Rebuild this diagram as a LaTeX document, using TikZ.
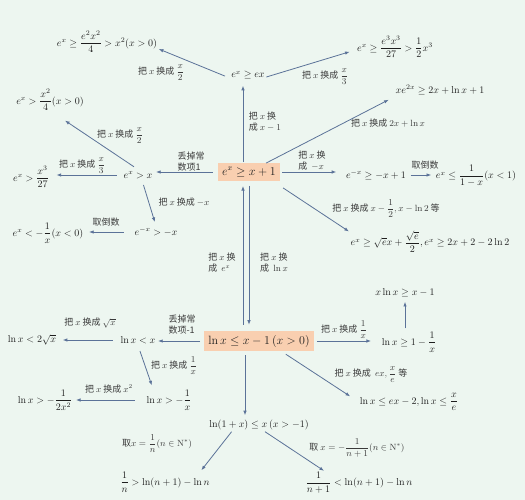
\documentclass[tikz,border=0pt]{standalone}
\usepackage{amsmath,amssymb}
\usepackage{fontspec}
\newfontfamily\cjk{Noto Sans CJK SC}
\usetikzlibrary{arrows.meta,positioning}
\pgfdeclarelayer{background1}
\pgfsetlayers{background1,main}

\begin{document}
\begin{tikzpicture}[x=1pt,y=-1pt,
	fml/.style={inner sep=1.5pt,font=\normalsize,text=fmlcolor},
	lbl/.style={inner sep=1pt,align=left,font=\small\cjk,text=lblcolor},
	keybox/.style={fill=boxcolor,inner sep=4pt,font=\large,text=fmlcolor},
	arr/.style={-{Latex[scale=0.7]},line width=0.8pt,arrcolor}]

	\definecolor{bgcolor}{HTML}{EDF6F0}
	\definecolor{boxcolor}{HTML}{F9CFB0}
	\definecolor{arrcolor}{HTML}{5B7298}
	\definecolor{fmlcolor}{HTML}{1E1E1E}
	\definecolor{lblcolor}{HTML}{3A3A3A}

	\useasboundingbox (0,0) rectangle (525,500);

	% upper half: e^x >= x+1
	\node(exm) [keybox] at (249,172) {$e^x\geq x+1$};
	\node(exx) [fml] at (248,75) {$e^x\geq ex$};
	\node(sq) [fml] at (107,42) {$e^x\geq\dfrac{e^2x^2}{4}>x^2(x>0)$};
	\node(cu) [fml] at (395,47) {$e^x\geq\dfrac{e^3x^3}{27}>\dfrac{1}{2}x^3$};
	\node(xe2) [fml] at (440,90) {$xe^{2x}\geq 2x+\ln x+1$};
	\node(gtx) [fml] at (138,175) {$e^x>x$};
	\node(sq2) [fml] at (50,100) {$e^x>\dfrac{x^2}{4}(x>0)$};
	\node(cu2) [fml] at (31,177) {$e^x>\dfrac{x^3}{27}$};
	\node(nx) [fml] at (156,232) {$e^{-x}>-x$};
	\node(inv) [fml] at (48,233) {$e^x<-\dfrac{1}{x}(x<0)$};
	\node(nx1) [fml] at (376,175) {$e^{-x}\geq -x+1$};
	\node(inv1) [fml] at (476,176) {$e^x\leq\dfrac{1}{1-x}(x<1)$};
	\node(sh) [fml] at (430,242) {$e^x\geq\sqrt{e}x+\dfrac{\sqrt{e}}{2},e^x\geq 2x+2-2\ln 2$};

	% lower half: ln x <= x-1
	\node(lnm) [keybox] at (259,341) {$\ln x\leq x-1\,(x>0)$};
	\node(xln) [fml] at (405,293) {$x\ln x\geq x-1$};
	\node(ln1) [fml] at (409,342) {$\ln x\geq 1-\dfrac{1}{x}$};
	\node(lnex) [fml] at (409,402) {$\ln x\leq ex-2,\ln x\leq\dfrac{x}{e}$};
	\node(lnlt) [fml] at (138,340) {$\ln x<x$};
	\node(lnsq) [fml] at (32,340) {$\ln x<2\sqrt{x}$};
	\node(lnr) [fml] at (169,400) {$\ln x>-\dfrac{1}{x}$};
	\node(lnr2) [fml] at (45,400) {$\ln x>-\dfrac{1}{2x^2}$};
	\node(lnp) [fml] at (259,425) {$\ln(1+x)\leq x\,(x>-1)$};
	\node(hn) [fml] at (165,482) {$\dfrac{1}{n}>\ln(n+1)-\ln n$};
	\node(hn1) [fml] at (359,483) {$\dfrac{1}{n+1}<\ln(n+1)-\ln n$};

	% labels
	\node(l1) [lbl] at (161,73) {把 $x$ 换成 $\dfrac{x}{2}$};
	\node(l2) [lbl] at (325,77) {把 $x$ 换成 $\dfrac{x}{3}$};
	\node(l3) [lbl] at (265,122) {把 $x$ 换\\成 $x-1$};
	\node(l4) [lbl] at (388,123) {把 $x$ 换成 $2x+\ln x$};
	\node(l5) [lbl] at (191,162) {丢掉常\\数项1};
	\node(l6) [lbl] at (120,136) {把 $x$ 换成 $\dfrac{x}{2}$};
	\node(l7) [lbl] at (82,166) {把 $x$ 换成 $\dfrac{x}{3}$};
	\node(l8) [lbl] at (184,202) {把 $x$ 换成 $-x$};
	\node(l9) [lbl] at (106,222) {取倒数};
	\node(l10) [lbl] at (312,161) {把 $x$ 换\\成 \ $-x$};
	\node(l11) [lbl] at (425,165) {取倒数};
	\node(l12) [lbl] at (386,209) {把 $x$ 换成 $x-\dfrac{1}{2},x-\ln 2$ 等};
	\node(l13) [lbl] at (222,263) {把 $x$ 换\\成 \ $e^x$};
	\node(l14) [lbl] at (274,263) {把 $x$ 换\\成 \ $\ln x$};
	\node(l15) [lbl] at (344,330) {把 $x$ 换成 $\dfrac{1}{x}$};
	\node(l16) [lbl] at (371,375) {把 $x$ 换成 \ $ex,\dfrac{x}{e}$ 等};
	\node(l17) [lbl] at (182,325) {丢掉常\\数项-1};
	\node(l18) [lbl] at (90,323) {把 $x$ 换成 $\sqrt{x}$};
	\node(l19) [lbl] at (174,366) {把 $x$ 换成 $\dfrac{1}{x}$};
	\node(l20) [lbl] at (109,389) {把 $x$ 换成 $x^2$};
	\node(l21) [lbl] at (157,444) {取$x=\dfrac{1}{n}(n\in\mathrm{N}^*)$};
	\node(l22) [lbl] at (357,448) {取 $x=-\dfrac{1}{n+1}(n\in\mathrm{N}^*)$};

	\coordinate (ua) at ([xshift=-6pt]exm.south);
	\coordinate (ub) at ([xshift=-6pt]exm.north);
	\coordinate (dp) at ([xshift=-14pt]lnm.south);

	\begin{pgfonlayer}{background1}
		\fill[bgcolor] (0,0) rectangle (525,500);
	\end{pgfonlayer}

	\draw[arr,shorten <=5pt] ([yshift=-3pt]exx.west) -- ([yshift=-7pt]sq.east);
	\draw[arr,shorten >=6pt] ([yshift=-2pt]exx.east) -- ([yshift=-3pt]cu.west);
	\draw[arr,shorten <=1pt,shorten >=5pt] (ub) -- (ub |- exx.south);
	\draw[arr,shorten >=6pt] ([xshift=-14pt]exm.north east) -- ([yshift=-7pt]xe2.west);
	\draw[arr,shorten <=5pt,shorten >=2pt] (exm.west) -- (exm.west -| gtx.east);
	\draw[arr] ([xshift=-4pt,yshift=3pt]gtx.north) -- ([xshift=15pt,yshift=-8pt]sq2.south);
	\draw[arr,shorten <=5pt,shorten >=6pt] (gtx.west) -- (gtx.west -| cu2.east);
	\draw[arr,shorten <=5pt,shorten >=4pt] ([xshift=4pt]gtx.south) -- (nx.north);
	\draw[arr,shorten <=9pt,shorten >=4pt] (nx.west) -- (nx.west -| inv.east);
	\draw[arr,shorten <=2pt,shorten >=8pt] (exm.east) -- (exm.east -| nx1.west);
	\draw[arr,shorten <=3pt,shorten >=3pt] (nx1.east) -- (nx1.east -| inv1.west);
	\draw[arr] ([xshift=3pt,yshift=-7pt]exm.south east) -- ([yshift=-2pt]sh.north west);

	\draw[arr,shorten <=6pt,shorten >=5pt] (ua |- lnm.north) -- (ua);
	\draw[arr,shorten <=5pt,shorten >=6pt] (exm.south) -- (exm.south |- lnm.north);

	\draw[arr,shorten <=2pt,shorten >=3pt] (xln.south |- ln1.north) -- (xln.south);
	\draw[arr,shorten <=3pt,shorten >=9pt] (lnm.east) -- (lnm.east -| ln1.west);
	\draw[arr] ([xshift=-28pt,yshift=-3pt]lnm.south east) -- ([xshift=-8pt,yshift=-5pt]lnex.north west);
	\draw[arr,shorten <=4pt,shorten >=1pt] (lnm.west) -- (lnm.west -| lnlt.east);
	\draw[arr,shorten <=6pt,shorten >=5pt] (lnlt.west) -- (lnlt.west -| lnsq.east);
	\draw[arr,shorten <=6pt,shorten >=3pt] (lnlt.south) -- ([xshift=8pt]lnr.north west);
	\draw[arr,shorten <=10pt,shorten >=2pt] (lnr.west) -- (lnr.west -| lnr2.east);
	\draw[arr,shorten <=4pt,shorten >=3pt] (dp) -- (dp |- lnp.north);
	\draw[arr] ([xshift=24pt]lnp.south west) -- ([xshift=-10pt]hn.north east);
	\draw[arr] ([xshift=6pt]lnp.south) -- ([xshift=20pt]hn1.north west);

\end{tikzpicture}
\end{document}
